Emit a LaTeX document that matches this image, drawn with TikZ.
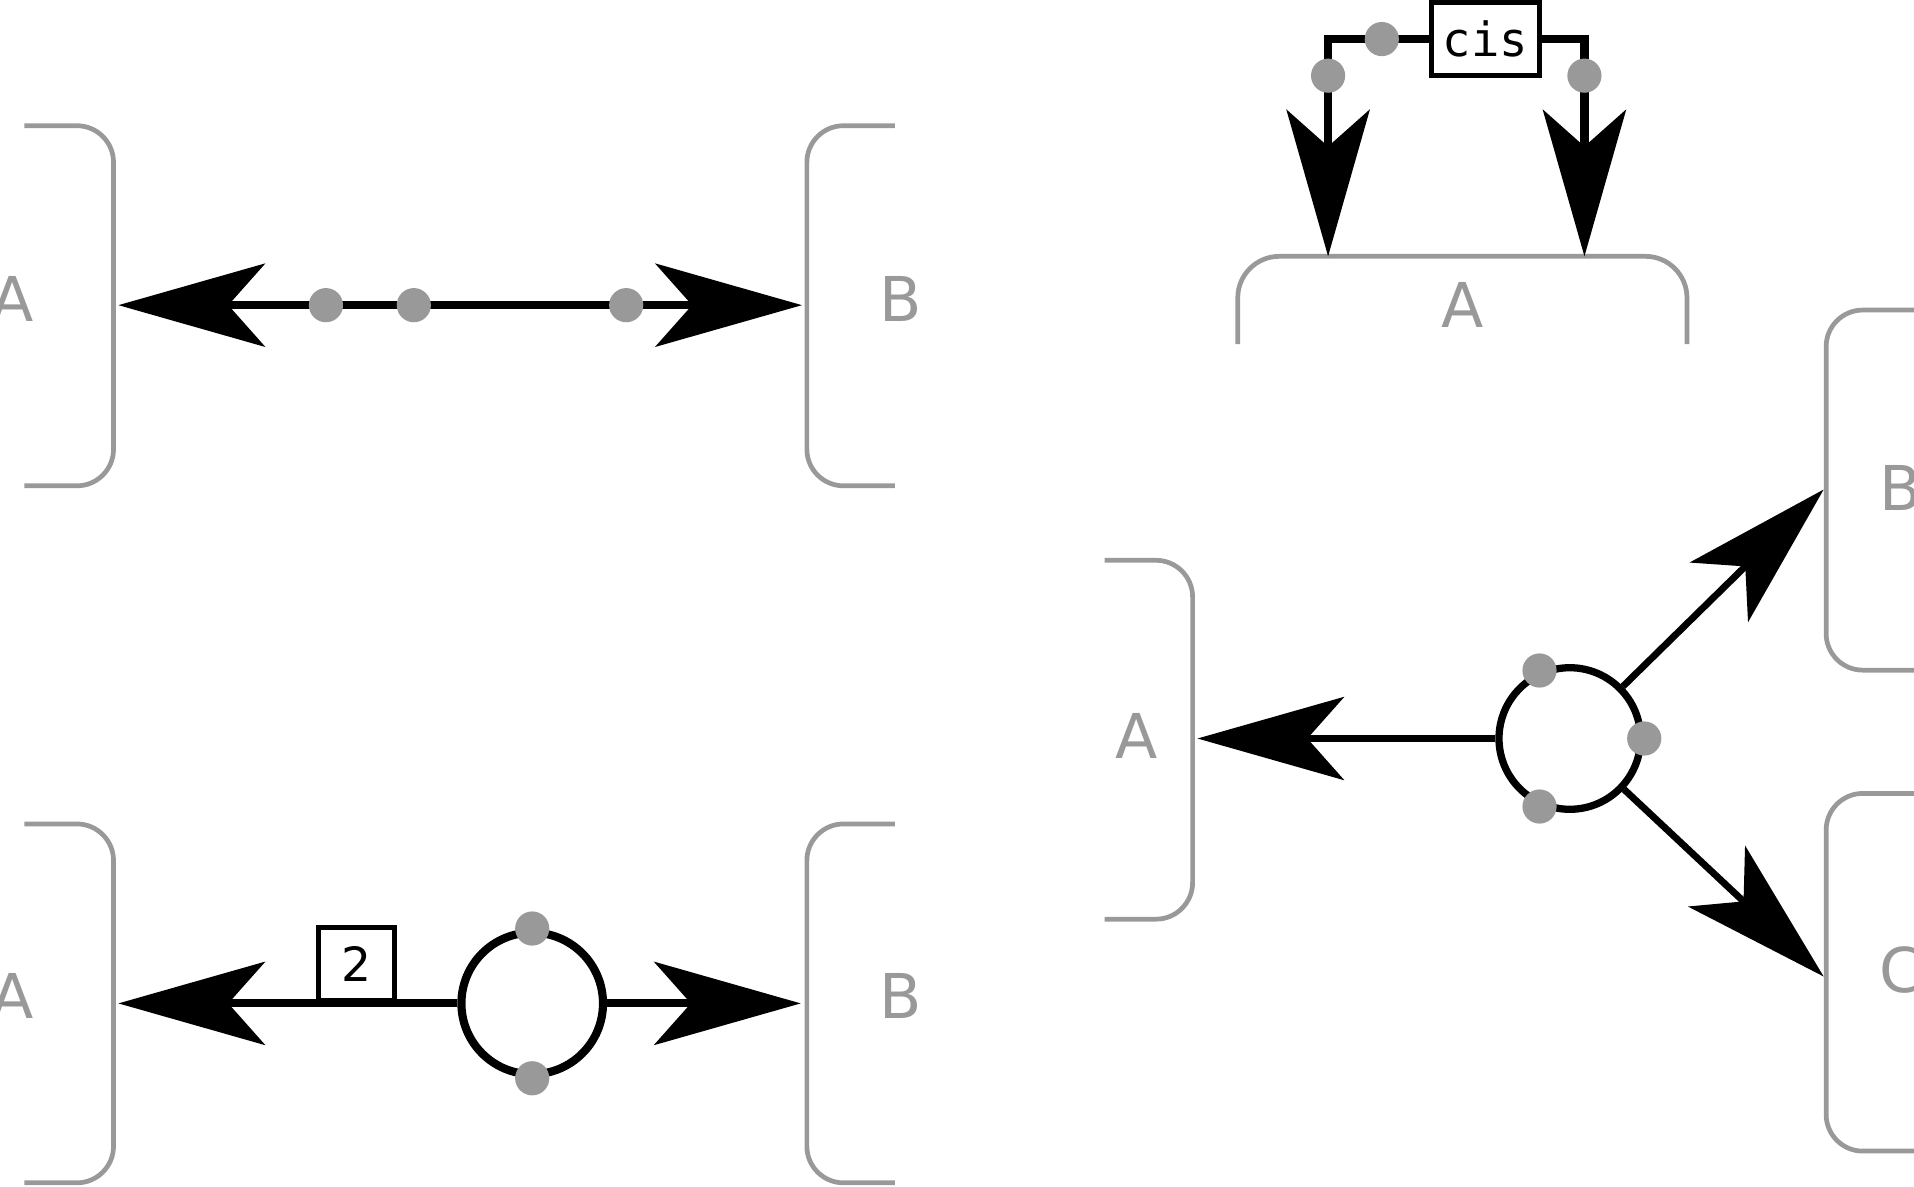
\documentclass[tikz,border=0pt]{standalone}
\usepackage{fontspec}
\setmainfont{DejaVu Sans}
\setmonofont{DejaVu Sans Mono}
\usetikzlibrary{arrows.meta}
\definecolor{greyline}{HTML}{999999}
\tikzset{
	bracket/.style={draw=greyline,line width=1.1pt,rounded corners=0.3cm},
	lbl/.style={text=greyline,font=\fontsize{14.4}{17}\selectfont},
	dot/.style={circle,fill=greyline,inner sep=0pt,minimum size=0.28cm},
	link/.style={line width=1.9pt},
	ring/.style={circle,draw,line width=1.9pt,minimum size=1.16cm,inner sep=0pt},
	tag/.style={draw,fill=white,line width=1.2pt,inner sep=0pt,font=\fontsize{11}{13}\selectfont}
}

\begin{document}
\begin{tikzpicture}[>={Stealth[length=1.2cm,width=0.68cm,inset=0.3cm]}]
		\useasboundingbox (0,0) rectangle (15.68,9.72);
		% top left
		\draw [bracket] (0.20,8.69) -- (0.93,8.69) -- (0.93,5.74) -- (0.20,5.74);
		\draw [bracket] (7.33,8.69) -- (6.61,8.69) -- (6.61,5.74) -- (7.33,5.74);
		\node [lbl] (a1) at (0.10,7.27) {A};
		\node [lbl] (b1) at (7.38,7.27) {B};
		\coordinate (t1l) at (0.97,7.22);
		\coordinate (t1r) at (6.57,7.22);
		\draw [link,<->] (t1l) -- (t1r);
		\node [dot] (d1a) at (2.67,7.22) {};
		\node [dot] (d1b) at (3.39,7.22) {};
		\node [dot] (d1c) at (5.13,7.22) {};
		% top right
		\draw [bracket,rounded corners=0.34cm] (10.14,6.90) -- (10.14,7.62) -- (13.82,7.62) -- (13.82,6.90);
		\node [lbl] (a2) at (11.98,7.22) {A};
		\node [tag,minimum width=0.89cm,minimum height=0.60cm] (cis) at (12.17,9.40) {\ttfamily cis};
		\coordinate (t2l) at (10.88,7.62);
		\coordinate (t2r) at (12.98,7.62);
		\draw [link,->] (cis.west) -| (t2l);
		\draw [link,->] (cis.east) -| (t2r);
		\node [dot] (d2a) at (11.32,9.40) {};
		\node [dot] (d2b) at (10.88,9.10) {};
		\node [dot] (d2c) at (12.98,9.10) {};
		% bottom left
		\draw [bracket] (0.20,2.97) -- (0.93,2.97) -- (0.93,0.03) -- (0.20,0.03);
		\draw [bracket] (7.33,2.97) -- (6.61,2.97) -- (6.61,0.03) -- (7.33,0.03);
		\node [lbl] (a3) at (0.10,1.56) {A};
		\node [lbl] (b3) at (7.38,1.56) {B};
		\node [ring] (r3) at (4.36,1.50) {};
		\node [tag,minimum width=0.62cm,minimum height=0.60cm,anchor=south] (two) at (2.92,1.50) {2};
		\coordinate (t3l) at (0.97,1.50);
		\coordinate (t3r) at (6.56,1.50);
		\draw [link,->] (r3) -- (t3l);
		\draw [link,->] (r3) -- (t3r);
		\node [dot] (d3a) at (r3.north) {};
		\node [dot] (d3b) at (r3.south) {};
		% right
		\draw [bracket] (9.05,5.13) -- (9.77,5.13) -- (9.77,2.19) -- (9.05,2.19);
		\draw [bracket] (15.75,7.18) -- (14.96,7.18) -- (14.96,4.23) -- (15.75,4.23);
		\draw [bracket] (15.75,3.22) -- (14.96,3.22) -- (14.96,0.29) -- (15.75,0.29);
		\node [lbl] (a4) at (9.31,3.69) {A};
		\node [lbl] (b4) at (15.57,5.72) {B};
		\node [lbl] (c4) at (15.57,1.77) {C};
		\node [ring,line width=1.7pt] (r4) at (12.86,3.67) {};
		\coordinate (t4a) at (9.81,3.67);
		\coordinate (t4b) at (14.94,5.71);
		\coordinate (t4c) at (14.94,1.72);
		\draw [link,line width=1.6pt,->] (r4) -- (t4a);
		\draw [link,line width=1.6pt,->] (r4) -- (t4b);
		\draw [link,line width=1.6pt,->] (r4) -- (t4c);
		\node [dot] (d4a) at (r4.114) {};
		\node [dot] (d4b) at (r4.0) {};
		\node [dot] (d4c) at (r4.-114) {};
\end{tikzpicture}
\end{document}
